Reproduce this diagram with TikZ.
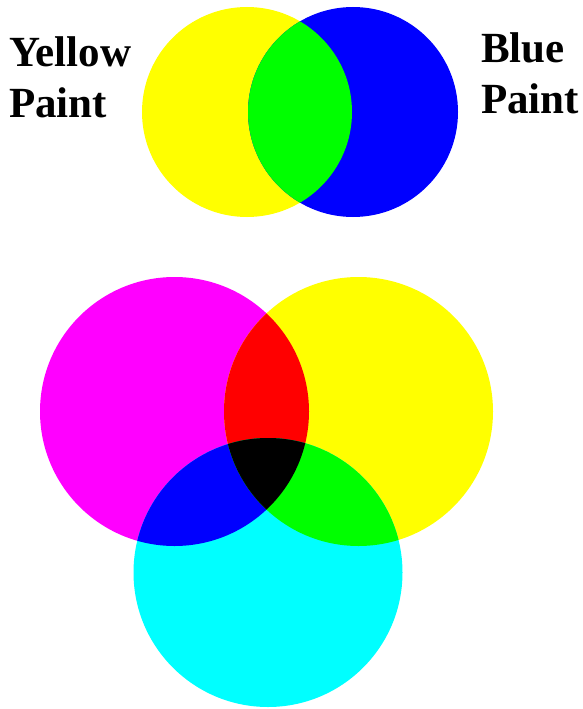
\documentclass[tikz,border=0pt]{standalone}
\usepackage{fontspec}
\setmainfont{Liberation Serif}
\usepackage{xcolor}
\usepackage{tikz}

\definecolor{paintyellow}{RGB}{255,255,0}
\definecolor{paintblue}{RGB}{0,0,255}
\definecolor{paintgreen}{RGB}{0,255,0}
\definecolor{paintmagenta}{RGB}{255,0,255}
\definecolor{paintcyan}{RGB}{0,255,255}
\definecolor{paintred}{RGB}{255,0,0}

\tikzset{
  paint label/.style={anchor=north west, inner sep=0pt, align=left,
    font=\fontsize{43}{51}\selectfont\bfseries},
}

\begin{document}
\begin{tikzpicture}[x=1pt, y=-1pt]
\useasboundingbox (0,0) rectangle (582,709);
% yellow and blue paint
\begin{scope}
\coordinate (yel) at (247,112);
\coordinate (blu) at (353,112);
\fill[paintyellow] (yel) circle[radius=105];
\fill[paintblue] (blu) circle[radius=105];
\begin{scope}
\clip (yel) circle[radius=105];
\fill[paintgreen] (blu) circle[radius=105];
\end{scope}
\node[paint label] (yellowlabel) at (9,36) {Yellow\\Paint};
\node[paint label] (bluelabel) at (481,32) {Blue\\Paint};
\end{scope}
% magenta, yellow and cyan
\begin{scope}
\coordinate (mag) at (174.5,411.5);
\coordinate (yel2) at (358.5,411.5);
\coordinate (cya) at (268,572.5);
\fill[paintmagenta] (mag) circle[radius=134.5];
\fill[paintyellow] (yel2) circle[radius=134.5];
\fill[paintcyan] (cya) circle[radius=134.5];
\begin{scope}
\clip (mag) circle[radius=134.5];
\fill[paintred] (yel2) circle[radius=134.5];
\fill[paintblue] (cya) circle[radius=134.5];
\end{scope}
\begin{scope}
\clip (yel2) circle[radius=134.5];
\fill[paintgreen] (cya) circle[radius=134.5];
\end{scope}
\begin{scope}
\clip (mag) circle[radius=134.5];
\clip (yel2) circle[radius=134.5];
\fill[black] (cya) circle[radius=134.5];
\end{scope}
\end{scope}
\end{tikzpicture}
\end{document}
